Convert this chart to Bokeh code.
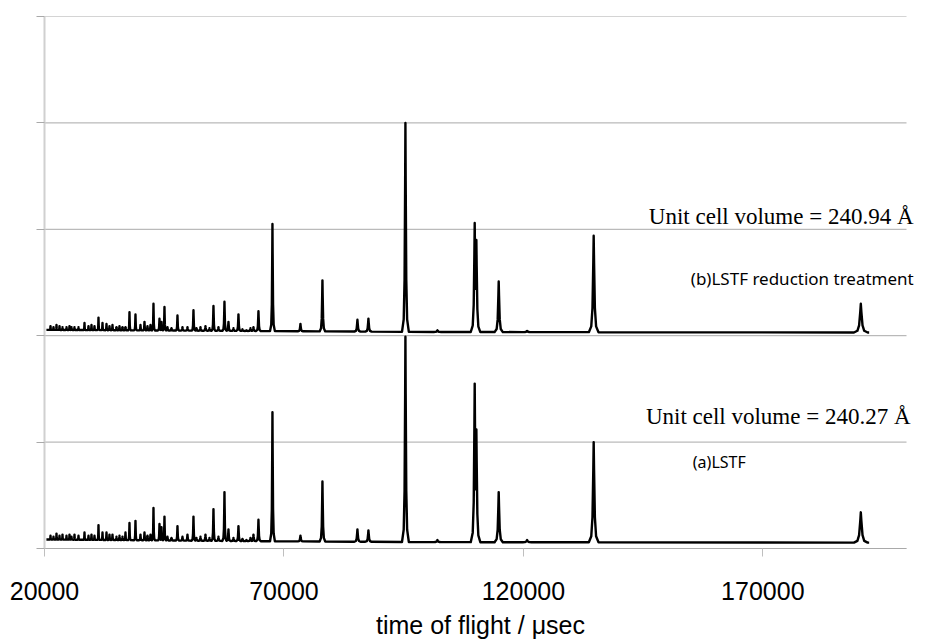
import numpy as np
from bokeh.plotting import figure
from bokeh.models import Range1d, FixedTicker, PrintfTickFormatter, Label
from bokeh.embed import file_html
from bokeh.resources import INLINE

# ---- data ----
# main peak positions (time of flight, usec)
peak_tof = [22505, 23758, 26263, 27098, 28351, 31274, 32109, 32944, 33570, 35031,
            36910, 37745, 38998, 40877, 42130, 42756, 44009, 44426, 45052, 46514,
            47766, 49854, 51107, 53612, 55282, 57579, 58414, 60501, 62172, 63633,
            64677, 67600, 73445, 78038, 85345, 87641, 95366, 102047, 109833, 110180,
            114845, 120774, 134678, 190460]
# peak tops, (b) LSTF reduction treatment (offset pattern)
peak_b = [2.10, 2.08, 2.08, 2.08, 2.12, 2.17, 2.12, 2.11, 2.09, 2.08,
          2.08, 2.22, 2.20, 2.13, 2.10, 2.30, 2.16, 2.13, 2.27, 2.07,
          2.19, 2.08, 2.24, 2.09, 2.28, 2.32, 2.13, 2.20, 2.05, 2.08,
          2.23, 3.05, 2.11, 2.52, 2.15, 2.16, 4.00, 2.05, 3.06, 2.90,
          2.51, 2.045, 2.94, 2.30]
# peak tops, (a) LSTF
peak_a = [0.14, 0.13, 0.13, 0.12, 0.15, 0.22, 0.15, 0.15, 0.13, 0.11,
          0.15, 0.24, 0.26, 0.15, 0.13, 0.38, 0.23, 0.20, 0.30, 0.10,
          0.21, 0.13, 0.30, 0.13, 0.37, 0.53, 0.18, 0.21, 0.08, 0.13,
          0.27, 1.28, 0.12, 0.63, 0.18, 0.17, 1.99, 0.08, 1.55, 1.12,
          0.53, 0.08, 1.00, 0.34]
# small bumps in the dense low-tof region
minor_tof = [21253, 21879, 23132, 24593, 25219, 25637, 29186, 29812, 30438, 34196,
             35657, 36283, 40041, 41503, 45678, 48809, 51732, 52567, 54446, 56325,
             59457, 61336, 63006]
minor_b = [2.09, 2.08, 2.09, 2.08, 2.09, 2.08, 2.09, 2.10, 2.09, 2.10,
           2.09, 2.08, 2.10, 2.09, 2.08, 2.08, 2.07, 2.08, 2.07, 2.08,
           2.07, 2.06, 2.07]
minor_a = [0.12, 0.11, 0.12, 0.12, 0.13, 0.11, 0.12, 0.13, 0.12, 0.13,
           0.12, 0.11, 0.13, 0.12, 0.11, 0.11, 0.10, 0.11, 0.10, 0.11,
           0.10, 0.09, 0.10]
# background levels
base_tof = [20400, 60000, 100000, 192200]
base_a = [0.085, 0.070, 0.060, 0.055]
base_b = [2.055, 2.045, 2.035, 2.030]

x_ticks = [20000, 70000, 120000, 170000]
y_ticks = [0, 1, 2, 3, 4, 5]
x_end_data = 200000

labels = [
    ("Unit cell volume = 240.94 \u00c5", 146200, 3.12, "serif", "23px"),
    ("(b)LSTF reduction treatment", 154960, 2.54, "sans", "17px"),
    ("Unit cell volume = 240.27 \u00c5", 145580, 1.24, "serif", "23px"),
    ("(a)LSTF", 155380, 0.81, "sans", "16px"),
]

# ---- peak shape (piecewise linear profile, relative to peak width) ----
RES = 0.0075
shape_x = [-1.0, -0.5, -0.25, -0.08, 0.0, 0.08, 0.25, 0.5, 1.0]
shape_y = [0.0, 0.06, 0.25, 0.72, 1.0, 0.72, 0.25, 0.06, 0.0]


def pattern(pos, tops, base):
    xs = [base_tof[0], base_tof[-1]]
    for t in pos:
        hw = RES * t
        xs += [t + s * hw for s in shape_x]
    xs = np.unique(np.array(xs))
    bl = np.interp(xs, base_tof, base)
    rel = np.zeros_like(xs)
    for t, top in zip(pos, tops):
        hw = RES * t
        h = top - np.interp(t, base_tof, base)
        px = [t + s * hw for s in shape_x]
        py = [h * s for s in shape_y]
        rel = np.maximum(rel, np.interp(xs, px, py, left=0, right=0))
    return xs, bl + rel


# frame: 44..916 px wide for 180000 tof over 862 px
x_end = 20000 + (916 - 44) * 180000 / 862

p = figure(width=917, height=641, output_backend="svg", toolbar_location=None,
           x_range=Range1d(20000, x_end), y_range=Range1d(0, 5),
           min_border_left=44, min_border_right=1, min_border_top=16,
           min_border_bottom=92)
p.outline_line_color = None
p.background_fill_color = "white"
p.border_fill_color = "white"

# horizontal gridlines (ending at the end of the time axis)
p.segment(x0=[20000] * len(y_ticks), x1=[x_end_data] * len(y_ticks),
          y0=y_ticks, y1=y_ticks, line_color="#a9a9a9", line_width=1)

xa, ya = pattern(peak_tof + minor_tof, peak_a + minor_a, base_a)
xb, yb = pattern(peak_tof + minor_tof, peak_b + minor_b, base_b)
p.line(xa, ya, line_color="black", line_width=2.4, line_join="round")
p.line(xb, yb, line_color="black", line_width=2.4, line_join="round")

# axes
p.xgrid.grid_line_color = None
p.ygrid.grid_line_color = None

p.xaxis.bounds = (20000, x_end_data)
p.xaxis.ticker = FixedTicker(ticks=x_ticks)
p.xaxis.formatter = PrintfTickFormatter(format="%d")
p.xaxis.minor_tick_line_color = None
p.xaxis.major_tick_in = 0
p.xaxis.major_tick_out = 8
p.xaxis.major_tick_line_color = "#bfbfbf"
p.xaxis.axis_line_color = "#a9a9a9"
p.xaxis.major_label_text_font = "Liberation Sans"
p.xaxis.major_label_text_font_size = "25px"
p.xaxis.major_label_text_color = "black"
p.xaxis.major_label_standoff = 25
p.xaxis.axis_label = "time of flight / \u03bcsec"
p.xaxis.axis_label_text_font = "Liberation Sans"
p.xaxis.axis_label_text_font_size = "25px"
p.xaxis.axis_label_text_font_style = "normal"
p.xaxis.axis_label_text_color = "black"
p.xaxis.axis_label_standoff = 8

p.yaxis.ticker = FixedTicker(ticks=y_ticks)
p.yaxis.minor_tick_line_color = None
p.yaxis.major_tick_in = 0
p.yaxis.major_tick_out = 8
p.yaxis.major_tick_line_color = "#a9a9a9"
p.yaxis.axis_line_color = "#d0d0d0"
p.yaxis.axis_line_width = 2
p.yaxis.major_label_overrides = {t: "" for t in y_ticks}
p.yaxis.major_label_standoff = 0

for txt, x, y, kind, size in labels:
    font = "Liberation Serif" if kind == "serif" else "Noto Sans"
    lab = Label(x=x, y=y, text=txt, text_font=font, text_font_size=size,
                text_color="black", text_baseline="alphabetic", text_align="left")
    p.add_layout(lab)

open("out.html", "w").write(file_html(p, INLINE))
